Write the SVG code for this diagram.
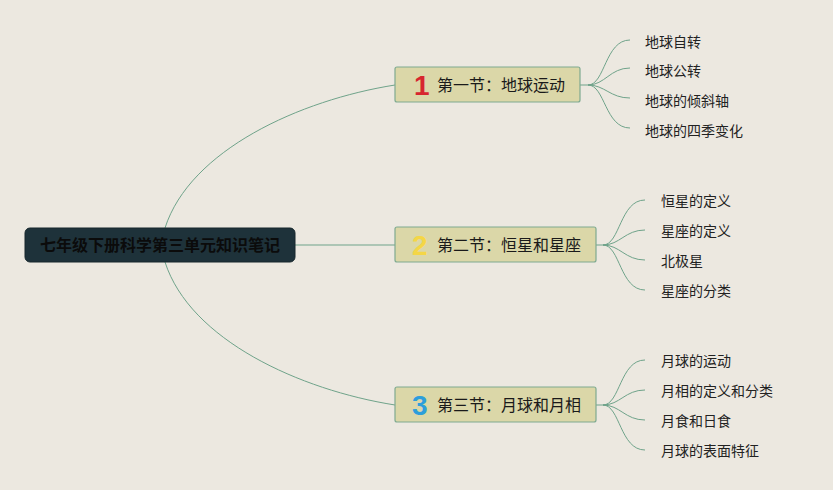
<svg xmlns="http://www.w3.org/2000/svg" width="833" height="490" viewBox="0 0 833 490">
<style>
.bg{fill:#ECE8E0}
.root{fill:#1E323A;stroke:#16262c;stroke-width:1}
.roott{font-family:"Noto Sans CJK SC","Noto Sans",sans-serif;font-size:16px;font-weight:bold;fill:#0b0b0b}
.br{fill:#DBD7A8;stroke:#7FAA90;stroke-width:1.2}
.brt{font-family:"Noto Sans CJK SC","Noto Sans",sans-serif;font-size:16px;fill:#1a1a1a}
.num{font-family:"Liberation Sans",Arial,sans-serif;font-size:28px;font-weight:bold}
.leaf{font-family:"Noto Sans CJK SC","Noto Sans",sans-serif;font-size:14px;fill:#222}
.ln{fill:none;stroke:#6FA38A;stroke-width:1}
</style>
<rect class="bg" width="833" height="490"/>
<g id="connectors">
<path class="ln" d="M165,228 C190,150 300,100 395,85"/>
<path class="ln" d="M295,245 L395,245"/>
<path class="ln" d="M165,262 C190,340 300,390 395,405"/>
<path class="ln" d="M580,85 L588,85"/>
<path class="ln" d="M588,85 C605,85 605,40 630,40"/>
<path class="ln" d="M588,85 C605,85 610,68 630,68"/>
<path class="ln" d="M588,85 C605,85 610,98 630,98"/>
<path class="ln" d="M588,85 C605,85 605,128 630,128"/>
<path class="ln" d="M596,245 L603,245"/>
<path class="ln" d="M603,245 C620,245 620,200 645,200"/>
<path class="ln" d="M603,245 C620,245 625,230 645,230"/>
<path class="ln" d="M603,245 C620,245 625,260 645,260"/>
<path class="ln" d="M603,245 C620,245 620,290 645,290"/>
<path class="ln" d="M596,405 L603,405"/>
<path class="ln" d="M603,405 C620,405 620,360 645,360"/>
<path class="ln" d="M603,405 C620,405 625,390 645,390"/>
<path class="ln" d="M603,405 C620,405 625,420 645,420"/>
<path class="ln" d="M603,405 C620,405 620,450 645,450"/>
</g>
<g id="root">
<rect class="root" x="25" y="228" width="270" height="34" rx="5"/>
<text class="roott" x="160" y="251" text-anchor="middle">七年级下册科学第三单元知识笔记</text>
</g>
<g id="b1">
<rect class="br" x="395" y="67" width="185" height="35" rx="2"/>
<text class="num" x="414" y="95" fill="#D7262E">1</text>
<text class="brt" x="437" y="91">第一节：地球运动</text>
</g>
<g id="b2">
<rect class="br" x="395" y="227" width="201" height="35" rx="2"/>
<text class="num" x="412" y="255" fill="#F4D646">2</text>
<text class="brt" x="437" y="251">第二节：恒星和星座</text>
</g>
<g id="b3">
<rect class="br" x="395" y="387" width="201" height="35" rx="2"/>
<text class="num" x="412" y="415" fill="#2D9EDB">3</text>
<text class="brt" x="437" y="411">第三节：月球和月相</text>
</g>
<g id="l1"><text class="leaf" x="645" y="47">地球自转</text></g>
<g id="l2"><text class="leaf" x="645" y="76">地球公转</text></g>
<g id="l3"><text class="leaf" x="645" y="106">地球的倾斜轴</text></g>
<g id="l4"><text class="leaf" x="645" y="136">地球的四季变化</text></g>
<g id="l5"><text class="leaf" x="661" y="206">恒星的定义</text></g>
<g id="l6"><text class="leaf" x="661" y="236">星座的定义</text></g>
<g id="l7"><text class="leaf" x="661" y="266">北极星</text></g>
<g id="l8"><text class="leaf" x="661" y="296">星座的分类</text></g>
<g id="l9"><text class="leaf" x="661" y="366">月球的运动</text></g>
<g id="l10"><text class="leaf" x="661" y="396">月相的定义和分类</text></g>
<g id="l11"><text class="leaf" x="661" y="426">月食和日食</text></g>
<g id="l12"><text class="leaf" x="661" y="456">月球的表面特征</text></g>
</svg>
